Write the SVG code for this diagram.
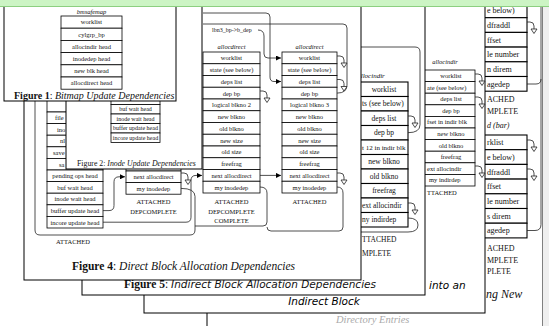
<svg xmlns="http://www.w3.org/2000/svg" width="549" height="326" viewBox="0 0 549 326">
<style>
.pp{fill:#fff;stroke:#000;stroke-width:1}
.r{fill:#fff;stroke:#000;stroke-width:0.8}
.rb{fill:#fff;stroke:#000;stroke-width:1.1}
.c{fill:none;stroke:#222;stroke-width:0.8}
.t{font-family:"Liberation Serif","Times New Roman",serif;fill:#111}
.m{text-anchor:middle}
.i{font-style:italic}
.b{font-weight:bold}
.s{font-family:"DejaVu Sans","Liberation Sans",sans-serif;font-style:italic}
</style>
<defs>
<marker id="ah" markerWidth="5" markerHeight="5" refX="5" refY="2.5" orient="auto" markerUnits="userSpaceOnUse"><path d="M0,0 L5,2.5 L0,5 z" fill="#000"/></marker>
<g id="hk"><path d="M0,0 h3 q4,0 4,4 v3" fill="none" stroke="#222" stroke-width="0.8"/><path d="M4,7 h6 l-3,4.5 z" fill="#fff" stroke="#222" stroke-width="0.8"/></g>
</defs>
<rect width="549" height="326" fill="#fff"/>

<g id="fig7">
<rect class="pp" x="207" y="-5" width="336" height="345"/>
<g id="diradd1">
<rect class="rb" x="470" y="-11.7" width="57" height="14.7"/>
<rect class="rb" x="470" y="3" width="57" height="14.7"/>
<rect class="rb" x="470" y="17.7" width="57" height="14.7"/>
<rect class="rb" x="470" y="32.4" width="57" height="14.7"/>
<rect class="rb" x="470" y="47.1" width="57" height="14.7"/>
<rect class="rb" x="470" y="61.8" width="57" height="14.7"/>
<rect class="rb" x="470" y="76.5" width="57" height="14.7"/>
<g class="t" font-size="8">
<text x="487" y="13.2">e below)</text>
<text x="487" y="27.9">dfraddl</text>
<text x="487" y="42.6">ffset</text>
<text x="487" y="57.3">le number</text>
<text x="487" y="72">n direm</text>
<text x="487" y="86.7">agedep</text>
<text x="487" y="102">ACHED</text>
<text x="487" y="114">MPLETE</text>
<text x="487" y="128" class="i">d (bar)</text>
</g>
</g>
<g id="diradd2">
<rect class="rb" x="470" y="135" width="57" height="14.7"/>
<rect class="rb" x="470" y="149.7" width="57" height="14.7"/>
<rect class="rb" x="470" y="164.4" width="57" height="14.7"/>
<rect class="rb" x="470" y="179.1" width="57" height="14.7"/>
<rect class="rb" x="470" y="193.8" width="57" height="14.7"/>
<rect class="rb" x="470" y="208.5" width="57" height="14.7"/>
<rect class="rb" x="470" y="223.2" width="57" height="14.7"/>
<g class="t" font-size="8">
<text x="487" y="145.2">rklist</text>
<text x="487" y="159.9">e below)</text>
<text x="487" y="174.6">dfraddl</text>
<text x="487" y="189.3">ffset</text>
<text x="487" y="204">le number</text>
<text x="487" y="218.7">s direm</text>
<text x="487" y="233.4">agedep</text>
<text x="487" y="251">ACHED</text>
<text x="487" y="262.5">MPLETE</text>
<text x="487" y="274">PLETE</text>
</g>
</g>
<g id="fig7-connectors">
<path class="c" d="M527,230.5 H535 q6,0 6,-6 V6"/>
<path class="c" d="M527,84 H536 q5,0 5,-5"/>
<use href="#hk" x="527" y="22"/>
<use href="#hk" x="527" y="140"/>
<use href="#hk" x="527" y="169"/>
</g>
<text class="t i" x="486" y="298" font-size="12">ng New</text>
<text class="t i" x="336" y="323" font-size="10.5" style="fill:#aaa">Directory Entries</text>
</g>

<g id="fig6">
<rect class="pp" x="144" y="-5" width="341" height="318"/>
<g id="allocindir2">
<text class="t i m" x="445" y="64" font-size="6.5">allocindir</text>
<rect class="r" x="415" y="70" width="60" height="11.6"/>
<rect class="r" x="415" y="81.6" width="60" height="11.6"/>
<rect class="r" x="415" y="93.2" width="60" height="11.6"/>
<rect class="r" x="415" y="104.8" width="60" height="11.6"/>
<rect class="r" x="415" y="116.4" width="60" height="11.6"/>
<rect class="r" x="415" y="128" width="60" height="11.6"/>
<rect class="r" x="415" y="139.6" width="60" height="11.6"/>
<rect class="r" x="415" y="151.2" width="60" height="11.6"/>
<rect class="r" x="415" y="162.8" width="60" height="11.6"/>
<rect class="r" x="415" y="174.4" width="60" height="11.6"/>
<g class="t" font-size="6.5">
<text class="m" x="451" y="78">worklist</text>
<text x="427" y="89.6">ate (see below)</text>
<text class="m" x="451" y="101.2">deps list</text>
<text class="m" x="451" y="112.8">dep bp</text>
<text x="427" y="124.4">fset in indir blk</text>
<text class="m" x="451" y="136">new blkno</text>
<text class="m" x="451" y="147.6">old blkno</text>
<text class="m" x="451" y="159.2">freefrag</text>
<text x="427" y="170.8">ext allocindir</text>
<text x="429" y="182.4">my indirdep</text>
<text x="427" y="195">TTACHED</text>
</g>
</g>
<g id="fig6-connectors">
<use href="#hk" x="475" y="74"/>
<use href="#hk" x="475" y="97"/>
<use href="#hk" x="475" y="166"/>
</g>
<text class="s" x="429" y="289" font-size="10.5">into an</text>
<text class="s m" x="324" y="305" font-size="10.5">Indirect Block</text>
</g>

<g id="fig5">
<rect class="pp" x="82" y="-5" width="343" height="300"/>
<g id="allocindir1">
<text class="t i m" x="371" y="78" font-size="7">allocindir</text>
<rect class="rb" x="345" y="82" width="63" height="14.5"/>
<rect class="rb" x="345" y="96.5" width="63" height="14.5"/>
<rect class="rb" x="345" y="111" width="63" height="14.5"/>
<rect class="rb" x="345" y="125.5" width="63" height="14.5"/>
<rect class="rb" x="345" y="140" width="63" height="14.5"/>
<rect class="rb" x="345" y="154.5" width="63" height="14.5"/>
<rect class="rb" x="345" y="169" width="63" height="14.5"/>
<rect class="rb" x="345" y="183.5" width="63" height="14.5"/>
<rect class="rb" x="345" y="198" width="63" height="14.5"/>
<rect class="rb" x="345" y="212.5" width="63" height="14.5"/>
<g class="t" font-size="7.5">
<text class="m" x="384" y="91.9">worklist</text>
<text x="362" y="106.4">ts (see below)</text>
<text class="m" x="384" y="120.9">deps list</text>
<text class="m" x="384" y="135.4">dep bp</text>
<text x="362" y="149.9" font-size="7">t 12 in indir blk</text>
<text class="m" x="384" y="164.4">new blkno</text>
<text class="m" x="384" y="178.9">old blkno</text>
<text class="m" x="384" y="193.4">freefrag</text>
<text x="362" y="207.9">ext allocindir</text>
<text x="362" y="222.4">ny indirdep</text>
<text x="362" y="242">TTACHED</text>
<text x="362" y="256">MPLETE</text>
</g>
</g>
<g id="fig5-connectors">
<path class="c" d="M408,132.7 q12,0 12,-8 V52 q0,-5 -5,-5 H361"/>
<path class="c" d="M408,218 q10,0 10,7 q0,7 -10,7 H361"/>
<use href="#hk" x="408" y="116"/>
<use href="#hk" x="408" y="203"/>
</g>
<text class="t" x="124" y="287.5" font-size="11.5"><tspan class="b">Figure 5</tspan>: <tspan class="s" font-size="10.5">Indirect Block Allocation Dependencies</tspan></text>
</g>

<g id="fig4">
<rect class="pp" x="24" y="-5" width="337" height="285"/>
<g id="inodedep">
<rect class="r" x="47" y="100.4" width="56" height="11.6"/>
<rect class="r" x="47" y="112" width="56" height="11.6"/>
<rect class="r" x="47" y="123.6" width="56" height="11.6"/>
<rect class="r" x="47" y="135.2" width="56" height="11.6"/>
<rect class="r" x="47" y="146.8" width="56" height="11.6"/>
<rect class="r" x="47" y="158.4" width="56" height="11.6"/>
<rect class="r" x="47" y="170" width="56" height="11.6"/>
<rect class="r" x="47" y="181.6" width="56" height="11.6"/>
<rect class="r" x="47" y="193.2" width="56" height="11.6"/>
<rect class="r" x="47" y="204.8" width="56" height="11.6"/>
<rect class="r" x="47" y="216.4" width="56" height="11.6"/>
<g class="t" font-size="6.5">
<text x="55" y="120.1">file</text>
<text x="57" y="131.7">ino</text>
<text x="60" y="143.3">nl</text>
<text x="53" y="154.9">save</text>
<text x="59" y="166.5">sa</text>
<text class="m" x="75" y="178.1">pending ops head</text>
<text class="m" x="75" y="189.7">buf wait head</text>
<text class="m" x="75" y="201.3">inode wait head</text>
<text class="m" x="75" y="212.9">buffer update head</text>
<text class="m" x="75" y="224.5">incore update head</text>
<text class="m" x="73" y="243.5">ATTACHED</text>
</g>
</g>
<g id="allocdirect0">
<rect class="r" x="126" y="159.4" width="55" height="11.6"/>
<rect class="r" x="126" y="171" width="55" height="11.6"/>
<rect class="r" x="126" y="182.6" width="55" height="11.6"/>
<g class="t m" font-size="6.5">
<text x="153.5" y="179.1">next allocdirect</text>
<text x="153.5" y="190.7">my inodedep</text>
<text x="153.5" y="204">ATTACHED</text>
<text x="153.5" y="213.5">DEPCOMPLETE</text>
</g>
</g>
<g id="allocdirect1">
<text class="t i m" x="231.5" y="49" font-size="6.5">allocdirect</text>
<rect class="r" x="203" y="52" width="57" height="11.75"/>
<rect class="r" x="203" y="63.75" width="57" height="11.75"/>
<rect class="r" x="203" y="75.5" width="57" height="11.75"/>
<rect class="r" x="203" y="87.25" width="57" height="11.75"/>
<rect class="r" x="203" y="99" width="57" height="11.75"/>
<rect class="r" x="203" y="110.75" width="57" height="11.75"/>
<rect class="r" x="203" y="122.5" width="57" height="11.75"/>
<rect class="r" x="203" y="134.25" width="57" height="11.75"/>
<rect class="r" x="203" y="146" width="57" height="11.75"/>
<rect class="r" x="203" y="157.75" width="57" height="11.75"/>
<rect class="r" x="203" y="169.5" width="57" height="11.75"/>
<rect class="r" x="203" y="181.25" width="57" height="11.75"/>
<g class="t m" font-size="6.5">
<text x="231.5" y="60.2">worklist</text>
<text x="231.5" y="72">state (see below)</text>
<text x="231.5" y="83.7">deps list</text>
<text x="231.5" y="95.5">dep bp</text>
<text x="231.5" y="107.2">logical blkno 2</text>
<text x="231.5" y="119">new blkno</text>
<text x="231.5" y="130.7">old blkno</text>
<text x="231.5" y="142.5">new size</text>
<text x="231.5" y="154.2">old size</text>
<text x="231.5" y="166">freefrag</text>
<text x="231.5" y="177.7">next allocdirect</text>
<text x="231.5" y="189.5">my inodedep</text>
<text x="231.5" y="204">ATTACHED</text>
<text x="231.5" y="213.5">DEPCOMPLETE</text>
<text x="231.5" y="223">COMPLETE</text>
</g>
</g>
<g id="allocdirect2">
<text class="t i m" x="309.5" y="49" font-size="6.5">allocdirect</text>
<rect class="r" x="282" y="52" width="55" height="11.75"/>
<rect class="r" x="282" y="63.75" width="55" height="11.75"/>
<rect class="r" x="282" y="75.5" width="55" height="11.75"/>
<rect class="r" x="282" y="87.25" width="55" height="11.75"/>
<rect class="r" x="282" y="99" width="55" height="11.75"/>
<rect class="r" x="282" y="110.75" width="55" height="11.75"/>
<rect class="r" x="282" y="122.5" width="55" height="11.75"/>
<rect class="r" x="282" y="134.25" width="55" height="11.75"/>
<rect class="r" x="282" y="146" width="55" height="11.75"/>
<rect class="r" x="282" y="157.75" width="55" height="11.75"/>
<rect class="r" x="282" y="169.5" width="55" height="11.75"/>
<rect class="r" x="282" y="181.25" width="55" height="11.75"/>
<g class="t m" font-size="6.5">
<text x="309.5" y="60.2">worklist</text>
<text x="309.5" y="72">state (see below)</text>
<text x="309.5" y="83.7">deps list</text>
<text x="309.5" y="95.5">dep bp</text>
<text x="309.5" y="107.2">logical blkno 3</text>
<text x="309.5" y="119">new blkno</text>
<text x="309.5" y="130.7">old blkno</text>
<text x="309.5" y="142.5">new size</text>
<text x="309.5" y="154.2">old size</text>
<text x="309.5" y="166">freefrag</text>
<text x="309.5" y="177.7">next allocdirect</text>
<text x="309.5" y="189.5">my inodedep</text>
<text x="309.5" y="204">ATTACHED</text>
</g>
</g>
<text class="t" x="212" y="32" font-size="6">lbn3_bp-&gt;b_dep</text>
<g id="fig4-connectors">
<path class="c" d="M258,30 q6,0 6,6 V54 q0,4 4,4 H281" marker-end="url(#ah)"/>
<path class="c" d="M203,13 H266 q4,0 4,4 V77 q0,4.5 4,4.5 H281" marker-end="url(#ah)"/>
<path class="c" d="M337,93.1 q10,0 10,-8 V28 q0,-4 -4,-4 H203"/>
<path class="c" d="M260,175.4 H281" marker-end="url(#ah)"/>
<path class="c" d="M103,222.2 H186 q5,0 5,-5 V180.4 q0,-5 5,-5 H202" marker-end="url(#ah)"/>
<path class="c" d="M103,210.6 H109 q5,0 5,-5 V181.8 q0,-5 5,-5 H125" marker-end="url(#ah)"/>
<path class="c" d="M181,188.4 q14,0 14,8 V230 q0,5 -5,5 H40 q-5,0 -5,-5 V101"/>
<path class="c" d="M260,187 q7,0 7,6 V222 q0,4 -4,4 H195"/>
<path class="c" d="M337,187 q6,0 6,6 V227 q0,4 -4,4 H271 q-4,0 -4,-4"/>
<use href="#hk" x="337" y="56"/>
<use href="#hk" x="337" y="79.5"/>
<use href="#hk" x="260" y="91"/>
<use href="#hk" x="337" y="173"/>
<use href="#hk" x="181" y="173"/>
</g>
<text class="t" x="72" y="270" font-size="11.5"><tspan class="b">Figure 4</tspan>: <tspan class="i">Direct Block Allocation Dependencies</tspan></text>
</g>

<g id="fig2">
<rect class="pp" x="66" y="-5" width="136" height="174"/>
<g id="inodedep-list">
<rect class="r" x="111" y="95" width="49" height="9.5"/>
<rect class="r" x="111" y="104.5" width="49" height="9.5"/>
<rect class="r" x="111" y="114" width="49" height="9.5"/>
<rect class="r" x="111" y="123.5" width="49" height="9.5"/>
<rect class="r" x="111" y="133" width="49" height="9.5"/>
<g class="t m" font-size="6">
<text x="135.5" y="111.4">buf wait head</text>
<text x="135.5" y="120.9">inode wait head</text>
<text x="135.5" y="130.4">buffer update head</text>
<text x="135.5" y="139.9">incore update head</text>
</g>
</g>
<text class="t" x="77" y="165.5" font-size="7.8">Figure 2: <tspan class="i">Inode Update Dependencies</tspan></text>
</g>

<g id="fig1">
<rect class="pp" x="4" y="-5" width="172" height="106"/>
<g id="bmsafemap">
<text class="t i m" x="91.5" y="13.5" font-size="6.5">bmsafemap</text>
<rect class="r" x="61" y="16" width="61" height="12.2"/>
<rect class="r" x="61" y="28.2" width="61" height="12.2"/>
<rect class="r" x="61" y="40.4" width="61" height="12.2"/>
<rect class="r" x="61" y="52.6" width="61" height="12.2"/>
<rect class="r" x="61" y="64.8" width="61" height="12.2"/>
<rect class="r" x="61" y="77" width="61" height="12.2"/>
<g class="t m" font-size="6.5">
<text x="91.5" y="24.4">worklist</text>
<text x="91.5" y="36.6">cylgrp_bp</text>
<text x="91.5" y="48.8">allocindir head</text>
<text x="91.5" y="61">inodedep head</text>
<text x="91.5" y="73.2">new blk head</text>
<text x="91.5" y="85.4">allocdirect head</text>
</g>
</g>
<text class="t" x="14" y="99" font-size="10"><tspan class="b">Figure 1</tspan>: <tspan class="i">Bitmap Update Dependencies</tspan></text>
</g>

<rect x="543" y="6" width="6" height="320" fill="#efefef"/>
<rect x="0" y="0" width="549" height="6" fill="#ccf4c4"/>
<line x1="0" y1="6.5" x2="549" y2="6.5" stroke="#8ccf80" stroke-width="1"/>
</svg>
